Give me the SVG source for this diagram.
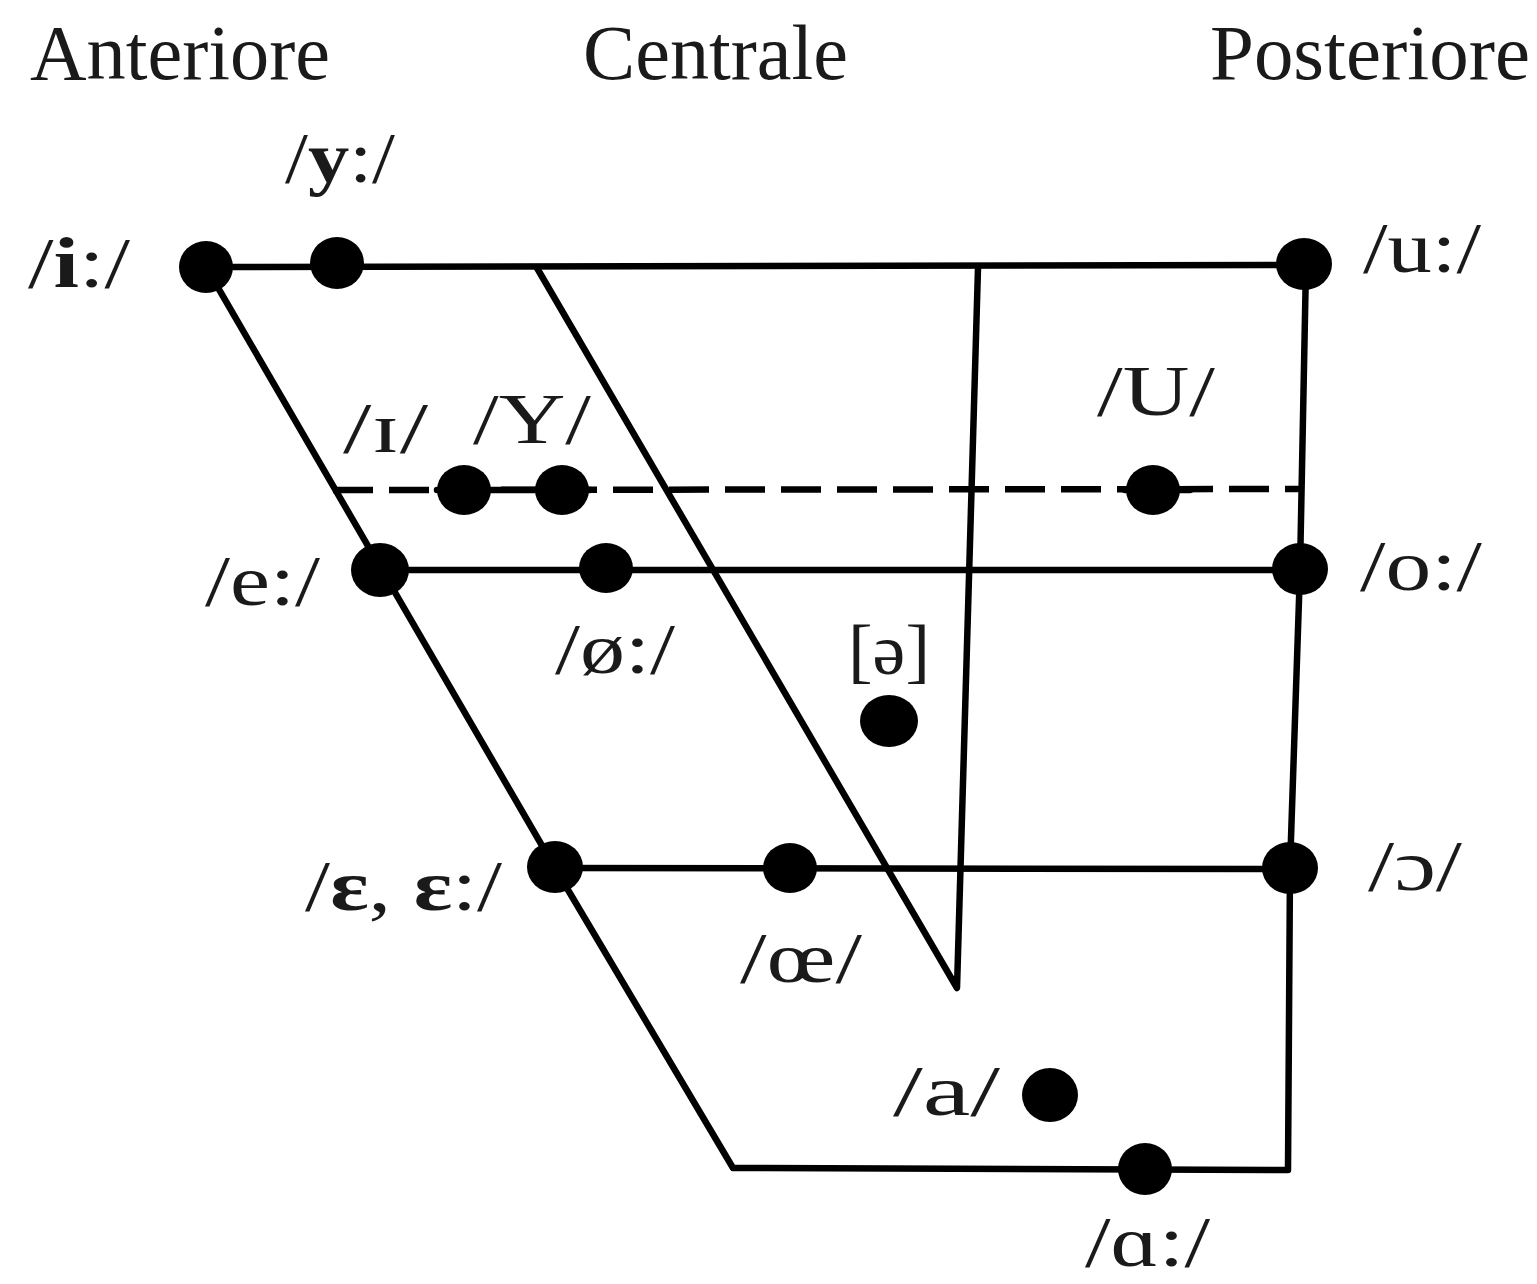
<svg xmlns="http://www.w3.org/2000/svg" width="1537" height="1284" viewBox="0 0 1537 1284">
<style>
.ln{stroke:#000;stroke-width:6.5;fill:none;stroke-linecap:round;stroke-linejoin:round}
.dash{stroke:#000;stroke-width:6.5;fill:none;stroke-dasharray:40 16}
.dot{fill:#000}
.hd{font-family:"Liberation Serif","Times New Roman",serif;font-size:78px;fill:#1a1a1a}
.lb{font-family:"Liberation Serif","Times New Roman",serif;font-size:71px;fill:#1a1a1a}
</style>
<rect width="1537" height="1284" fill="#fff"/>
<g id="headers">
<text class="hd" x="30" y="79" textLength="300" lengthAdjust="spacingAndGlyphs">Anteriore</text>
<text class="hd" x="583" y="79" textLength="265" lengthAdjust="spacingAndGlyphs">Centrale</text>
<text class="hd" x="1210" y="79" textLength="320" lengthAdjust="spacingAndGlyphs">Posteriore</text>
</g>
<g id="connectors">
<line class="ln" x1="206" y1="267" x2="1305" y2="265"/>
<polyline class="ln" points="206,267 555,868 733,1168 1288,1170 1290,868 1300,570 1306,265"/>
<line class="ln" x1="380" y1="570" x2="1300" y2="570"/>
<line class="ln" x1="555" y1="868" x2="1290" y2="869"/>
<polyline class="ln" points="537,268 957,988 978,268"/>
<line class="dash" x1="333" y1="490" x2="1303" y2="489"/>
<line class="ln" x1="437" y1="490" x2="590" y2="490"/>
<line class="ln" x1="1125" y1="490" x2="1190" y2="490"/>
</g>
<g id="node-i"><ellipse class="dot" cx="206" cy="267" rx="27" ry="26"/><text class="lb" x="28" y="287" textLength="102" lengthAdjust="spacingAndGlyphs">/<tspan font-weight="bold">i</tspan>:/</text></g>
<g id="node-y"><ellipse class="dot" cx="337" cy="263" rx="27" ry="26"/><text class="lb" x="285" y="182" textLength="110" lengthAdjust="spacingAndGlyphs">/<tspan font-weight="bold">y</tspan>:/</text></g>
<g id="node-u"><ellipse class="dot" cx="1304" cy="264" rx="28" ry="26"/><text class="lb" x="1363" y="272" textLength="118" lengthAdjust="spacingAndGlyphs">/u:/</text></g>
<g id="node-I"><ellipse class="dot" cx="464" cy="490" rx="27" ry="25"/><text class="lb" x="343" y="452" textLength="85" lengthAdjust="spacingAndGlyphs">/ɪ/</text></g>
<g id="node-Y"><ellipse class="dot" cx="562" cy="490" rx="27" ry="25"/><text class="lb" x="473" y="443" textLength="118" lengthAdjust="spacingAndGlyphs">/Y/</text></g>
<g id="node-U"><ellipse class="dot" cx="1153" cy="490" rx="27" ry="25"/><text class="lb" x="1097" y="415" textLength="118" lengthAdjust="spacingAndGlyphs">/U/</text></g>
<g id="node-e"><ellipse class="dot" cx="380" cy="570" rx="29" ry="27"/><text class="lb" x="205" y="605" textLength="115" lengthAdjust="spacingAndGlyphs">/e:/</text></g>
<g id="node-oe-long"><ellipse class="dot" cx="606" cy="568" rx="27" ry="25"/><text class="lb" x="555" y="673" textLength="120" lengthAdjust="spacingAndGlyphs">/ø:/</text></g>
<g id="node-o"><ellipse class="dot" cx="1300" cy="569" rx="28" ry="26"/><text class="lb" x="1360" y="590" textLength="122" lengthAdjust="spacingAndGlyphs">/o:/</text></g>
<g id="node-schwa"><ellipse class="dot" cx="889" cy="721" rx="29" ry="26"/><text class="lb" x="848" y="674" textLength="82" lengthAdjust="spacingAndGlyphs">[ə]</text></g>
<g id="node-eps"><ellipse class="dot" cx="555" cy="867" rx="28" ry="26"/><text class="lb" x="305" y="910" textLength="197" lengthAdjust="spacingAndGlyphs"><tspan>/</tspan><tspan font-weight="bold">ɛ</tspan><tspan>, </tspan><tspan font-weight="bold">ɛ</tspan><tspan>:/</tspan></text></g>
<g id="node-oe"><ellipse class="dot" cx="790" cy="868" rx="27" ry="25"/><text class="lb" x="740" y="982" textLength="122" lengthAdjust="spacingAndGlyphs">/œ/</text></g>
<g id="node-open-o"><ellipse class="dot" cx="1290" cy="868" rx="28" ry="26"/><text class="lb" x="1368" y="890" textLength="94" lengthAdjust="spacingAndGlyphs">/ɔ/</text></g>
<g id="node-a"><ellipse class="dot" cx="1050" cy="1095" rx="28" ry="27"/><text class="lb" x="893" y="1115" textLength="107" lengthAdjust="spacingAndGlyphs">/a/</text></g>
<g id="node-alpha"><ellipse class="dot" cx="1145" cy="1169" rx="27" ry="26"/><text class="lb" x="1085" y="1266" textLength="125" lengthAdjust="spacingAndGlyphs">/ɑ:/</text></g>
</svg>
